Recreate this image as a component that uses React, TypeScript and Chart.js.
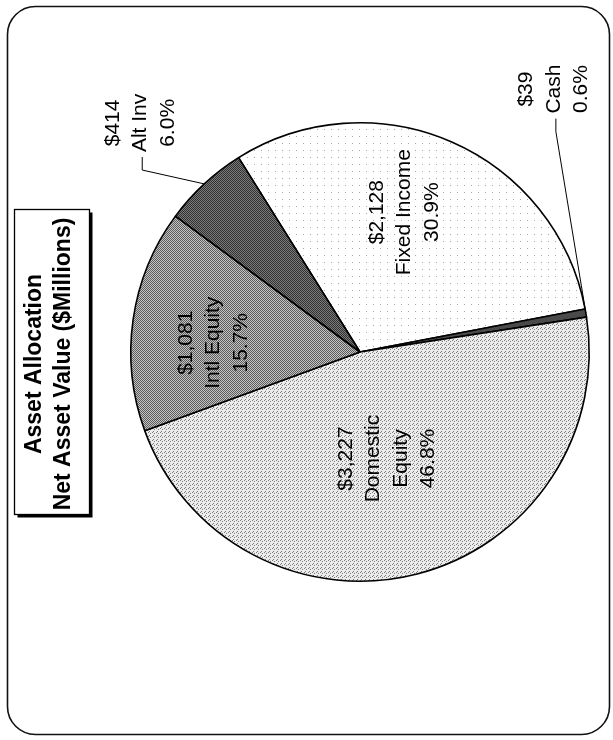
import React, { useEffect, useRef } from "react";
import { Chart, registerables } from "chart.js";

Chart.register(...registerables);

// Net asset value by asset class, $ millions
const categories = ["Fixed Income", "Cash", "Domestic Equity", "Intl Equity", "Alt Inv"];
const values = [2128, 39, 3227, 1081, 414];
// Category names as they are broken over lines in the slice labels
const nameLines = [["Fixed Income"], ["Cash"], ["Domestic", "Equity"], ["Intl Equity"], ["Alt Inv"]];
const titleLines = ["Asset Allocation", "Net Asset Value ($Millions)"];

const total = values.reduce((a, b) => a + b, 0);
const dollarText = (v: number) => "$" + v.toLocaleString("en-US");
const percentText = (v: number) => ((v / total) * 100).toFixed(1) + "%";

// Where each slice label sits: inside labels on the bisector, outside labels offset from the rim
type Placement =
  | { kind: "inside"; radius: number; nudge: number }
  | { kind: "outside"; dx: number; dy: number };
const placements: Placement[] = [
  { kind: "inside", radius: 0.64, nudge: -6 },
  { kind: "outside", dx: -32, dy: -224 },
  { kind: "inside", radius: 0.48, nudge: 0 },
  { kind: "inside", radius: 0.64, nudge: -4.5 },
  { kind: "outside", dx: -64, dy: -61 },
];

const FONT = '"Liberation Sans", Arial, Helvetica, sans-serif';

// Small pixel tiles that give each slice its stippled screen-tone look
function makePattern(base: string, dots: string, cells: [number, number][], size: number) {
  const c = document.createElement("canvas");
  c.width = size;
  c.height = size;
  const g = c.getContext("2d")!;
  g.fillStyle = base;
  g.fillRect(0, 0, size, size);
  g.fillStyle = dots;
  cells.forEach(([x, y]) => g.fillRect(x, y, 1, 1));
  return g.createPattern(c, "repeat")!;
}

function checker(size: number) {
  const cells: [number, number][] = [];
  for (let y = 0; y < size; y++) for (let x = 0; x < size; x++) if ((x + y) % 2 === 0) cells.push([x, y]);
  return cells;
}

const framePlugin = {
  id: "pageFrame",
  beforeDraw(chart: any) {
    const ctx: CanvasRenderingContext2D = chart.ctx;
    ctx.save();
    ctx.fillStyle = "#fff";
    ctx.fillRect(0, 0, chart.width, chart.height);

    // rounded outer frame
    ctx.strokeStyle = "#111";
    ctx.lineWidth = 1.6;
    ctx.beginPath();
    ctx.roundRect(7.5, 6.5, 602, 728, 28);
    ctx.stroke();

    // title box with a drop shadow
    const bx = 14.5, by = 209.5, bw = 75, bh = 305;
    ctx.fillStyle = "#000";
    ctx.fillRect(bx + 3, by + 3, bw, bh);
    ctx.fillStyle = "#fff";
    ctx.fillRect(bx, by, bw, bh);
    ctx.lineWidth = 1.3;
    ctx.strokeStyle = "#000";
    ctx.strokeRect(bx, by, bw, bh);

    ctx.translate(bx + bw / 2 - 2.5, by + bh / 2 + 2);
    ctx.rotate(-Math.PI / 2);
    ctx.fillStyle = "#000";
    ctx.font = `bold 23px ${FONT}`;
    ctx.textAlign = "center";
    ctx.textBaseline = "middle";
    const lh = 29;
    titleLines.forEach((t, i) => ctx.fillText(t, 0, (i - (titleLines.length - 1) / 2) * lh));
    ctx.restore();
  },
};

const sliceLabelPlugin = {
  id: "sliceLabels",
  afterDatasetsDraw(chart: any) {
    const ctx: CanvasRenderingContext2D = chart.ctx;
    const meta = chart.getDatasetMeta(0);
    const lh = 27.5;
    ctx.save();
    ctx.font = `21px ${FONT}`;
    ctx.fillStyle = "#000";
    ctx.textAlign = "center";
    ctx.textBaseline = "middle";
    meta.data.forEach((arc: any, i: number) => {
      const { x, y, startAngle, endAngle, outerRadius } = arc.getProps(
        ["x", "y", "startAngle", "endAngle", "outerRadius"],
        true
      );
      const mid = (startAngle + endAngle) / 2;
      const lines = [dollarText(values[i]), ...nameLines[i], percentText(values[i])];
      const p = placements[i];
      let cx: number, cy: number;
      if (p.kind === "inside") {
        const a = mid + (p.nudge * Math.PI) / 180;
        cx = x + Math.cos(a) * outerRadius * p.radius;
        cy = y + Math.sin(a) * outerRadius * p.radius;
      } else {
        const ex = x + Math.cos(mid) * outerRadius;
        const ey = y + Math.sin(mid) * outerRadius;
        cx = ex + p.dx;
        cy = ey + p.dy;
        const half = Math.max(...lines.map((t) => ctx.measureText(t).width)) / 2;
        const sx = cx + 2;
        const sy = cy + half + 5;
        ctx.strokeStyle = "#000";
        ctx.lineWidth = 1;
        ctx.beginPath();
        ctx.moveTo(sx, sy);
        ctx.lineTo(sx, sy + 13);
        ctx.lineTo(ex, ey);
        ctx.stroke();
      }
      ctx.save();
      ctx.translate(cx, cy);
      ctx.rotate(-Math.PI / 2);
      lines.forEach((t, k) => ctx.fillText(t, 0, (k - (lines.length - 1) / 2) * lh));
      ctx.restore();
    });
    ctx.restore();
  },
};

export default function App() {
  const ref = useRef<HTMLCanvasElement>(null);

  useEffect(() => {
    const canvas = ref.current!;
    const fills = [
      makePattern("#ffffff", "#a8a8a8", [[2, 3]], 7),
      "#4a4a4a",
      makePattern("#ececec", "#7c7c7c", [[0, 0], [2, 1], [1, 3]], 4),
      makePattern("#c4c4c4", "#5c5c5c", checker(4), 4),
      makePattern("#7c7c7c", "#303030", checker(4), 4),
    ];
    const chart = new Chart(canvas, {
      type: "pie",
      data: {
        labels: categories,
        datasets: [
          {
            data: values,
            backgroundColor: fills as any,
            borderColor: "#000",
            borderWidth: 1.6,
          },
        ],
      },
      options: {
        responsive: false,
        animation: false,
        rotation: -32,
        layout: { padding: { left: 130, right: 23, top: 122, bottom: 158 } },
        plugins: {
          legend: { display: false },
          title: { display: false },
          tooltip: { enabled: false },
        },
      },
      plugins: [framePlugin, sliceLabelPlugin],
    });
    return () => chart.destroy();
  }, []);

  return (
    <div style={{ position: "absolute", left: 0, top: 0, width: 613, height: 740, background: "#fff" }}>
      <canvas ref={ref} width={613} height={740} style={{ display: "block" }} />
    </div>
  );
}
